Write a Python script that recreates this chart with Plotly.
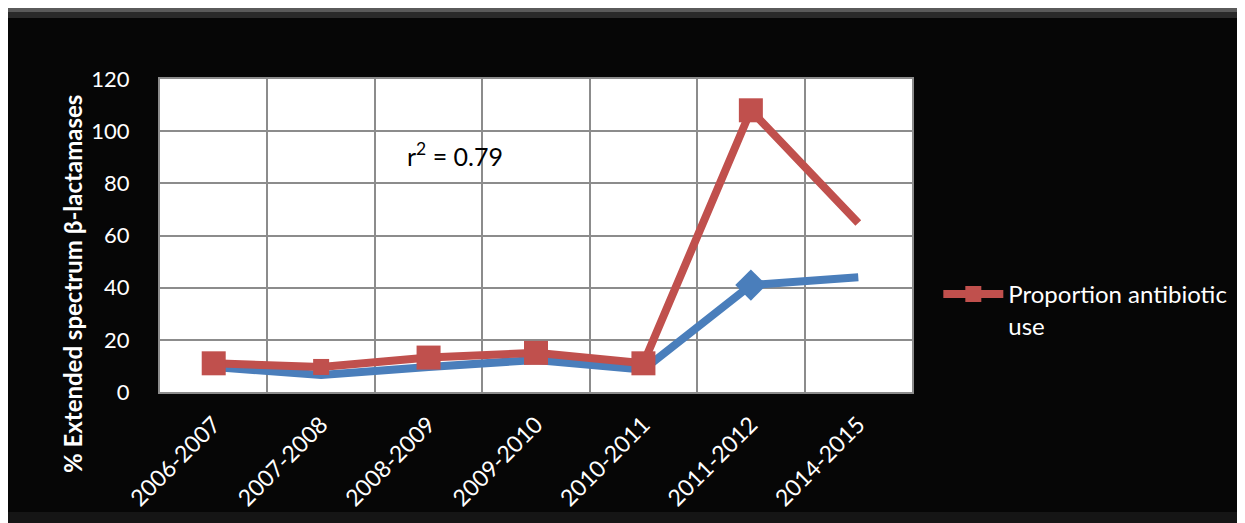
import plotly.graph_objects as go

periods = ["2006-2007", "2007-2008", "2008-2009", "2009-2010", "2010-2011", "2011-2012", "2014-2015"]
esbl = [9.6, 6.5, 9.6, 12.3, 8.6, 41, 44]
antibiotic = [11, 9.6, 13.2, 15, 11, 108, 64.8]
yticks = [0, 20, 40, 60, 80, 100, 120]

xi = list(range(len(periods)))
font = "Lato"
n = len(periods)
esbl_marker_sizes = [0, 0, 0, 0, 0, 24, 0]
ab_marker_sizes = [24, 16, 24, 24, 24, 24, 0]

fig = go.Figure()
fig.add_trace(go.Scatter(
    x=xi, y=esbl, mode="lines+markers", name="ESBL",
    line=dict(color="#4a7ebb", width=8),
    marker=dict(symbol="diamond", size=esbl_marker_sizes, color="#4a7ebb",
                opacity=1, line=dict(width=0)),
    showlegend=False,
))
fig.add_trace(go.Scatter(
    x=xi, y=antibiotic, mode="lines+markers", name="Proportion antibiotic<br>use",
    line=dict(color="#c0504d", width=8),
    marker=dict(symbol="square", size=ab_marker_sizes, color="#c0504d",
                opacity=1, line=dict(width=0)),
))

fig.add_annotation(
    x=2.25, y=91, xref="x", yref="y", text="r<sup>2</sup> = 0.79", showarrow=False,
    font=dict(family=font, size=25, color="#000000"),
)
fig.add_annotation(
    x=-0.117, y=0.345, xref="paper", yref="paper", textangle=-90,
    text="<b>% Extended spectrum β-lactamases</b>", showarrow=False,
    xanchor="center", yanchor="middle",
    font=dict(family=font, size=24, color="#ffffff"),
)

fig.update_layout(
    width=1245, height=523,
    paper_bgcolor="#060606", plot_bgcolor="#ffffff",
    margin=dict(l=152, r=341, t=71, b=139),
    font=dict(family=font, color="#ffffff"),
    legend=dict(
        x=1.035, y=0.262, xanchor="left", yanchor="middle", valign="top",
        font=dict(family=font, size=24, color="#ffffff"),
        bgcolor="rgba(0,0,0,0)", itemwidth=60,
    ),
    shapes=[
        dict(type="rect", xref="paper", yref="paper", x0=-0.203, x1=1.443, y0=1.2268, y1=1.214,
             line=dict(width=0), fillcolor="#5a5a5a", layer="below"),
        dict(type="rect", xref="paper", yref="paper", x0=-0.203, x1=1.443, y0=1.214, y1=1.195,
             line=dict(width=0), fillcolor="#2a2a2a", layer="below"),
        dict(type="rect", xref="paper", yref="paper", x0=-0.203, x1=1.443, y0=-0.383, y1=-0.444,
             line=dict(width=0), fillcolor="#151515", layer="below"),
    ],
)
fig.update_xaxes(
    range=[-0.5, n - 0.5],
    tickvals=xi, ticktext=periods, tickangle=-45,
    tickfont=dict(family=font, size=23, color="#ffffff"),
    showgrid=False, zeroline=False,
    showline=True, linecolor="#8c8c8c", linewidth=2, mirror=True,
    ticks="outside", ticklen=8, tickcolor="#060606",
    minor=dict(tick0=0.5, dtick=1, showgrid=True, gridcolor="#8c8c8c", gridwidth=2),
)
fig.update_yaxes(
    range=[0, 120], tickvals=yticks,
    tickfont=dict(family=font, size=22, color="#ffffff"),
    showgrid=True, gridcolor="#8c8c8c", gridwidth=2, zeroline=False,
    showline=True, linecolor="#8c8c8c", linewidth=2, mirror=True,
    ticks="outside", ticklen=24, tickcolor="#060606",
)

fig.write_html("out.html")
